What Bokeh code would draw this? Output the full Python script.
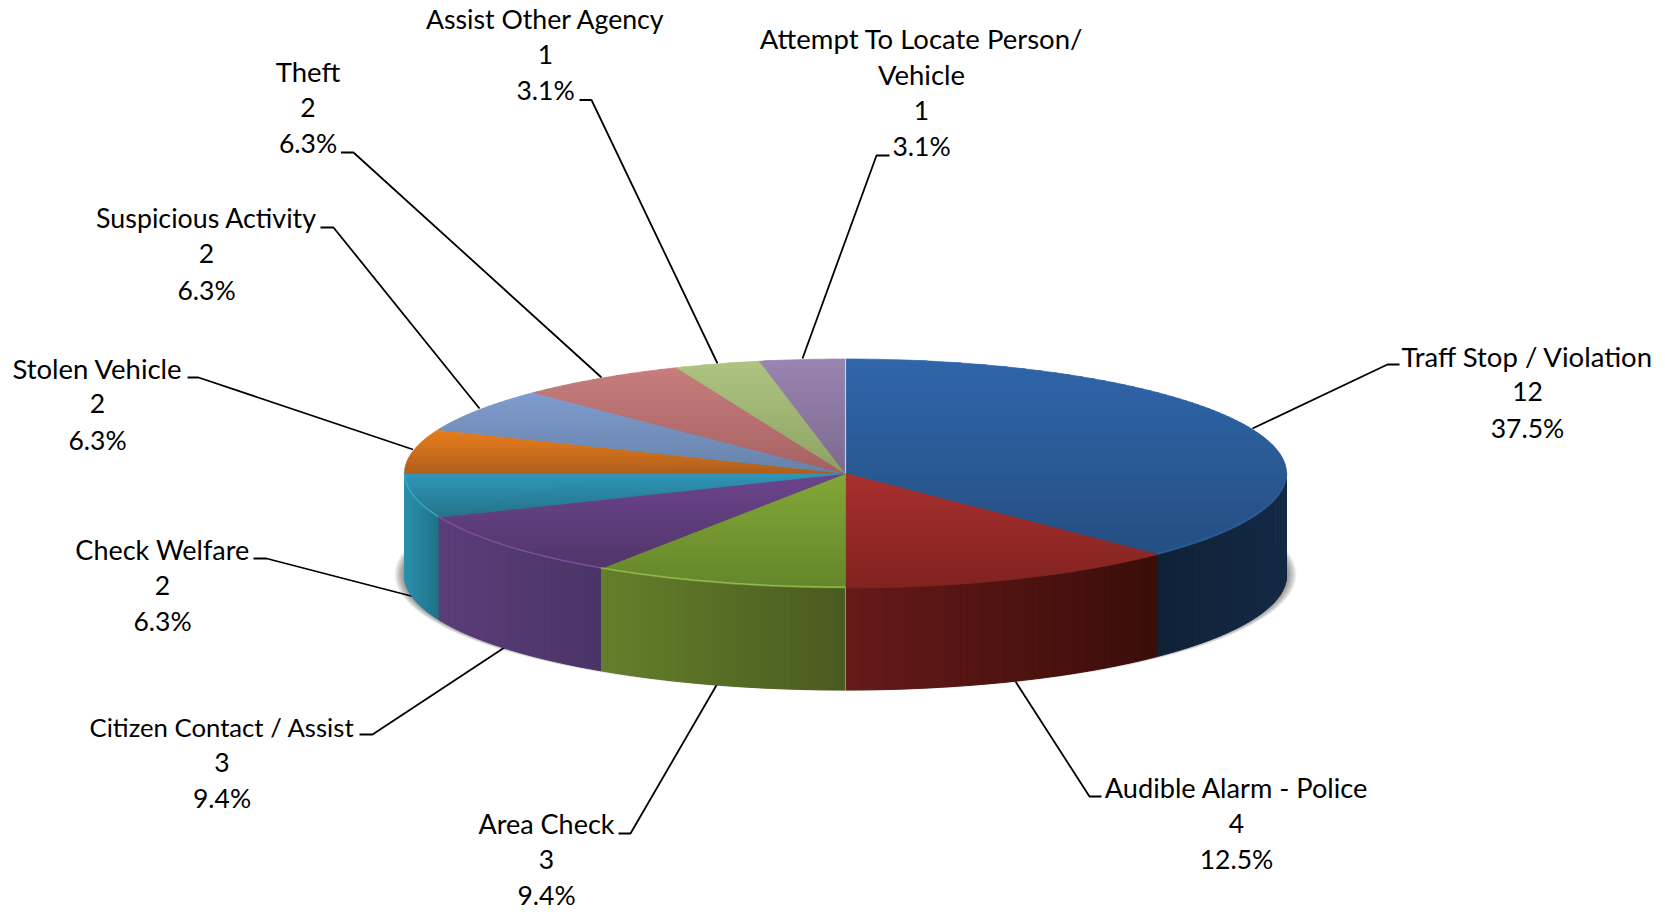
import math
from bokeh.plotting import figure
from bokeh.models import Range1d, ColumnDataSource
from bokeh.core.properties import value
from bokeh.embed import file_html
from bokeh.resources import INLINE

# ---- data (clockwise from 12 o'clock)
categories = ["Traff Stop / Violation", "Audible Alarm - Police", "Area Check",
              "Citizen Contact / Assist", "Check Welfare", "Stolen Vehicle",
              "Suspicious Activity", "Theft", "Assist Other Agency",
              "Attempt To Locate Person/\nVehicle"]
counts = [12, 4, 3, 3, 2, 2, 2, 2, 1, 1]
percents = ["37.5%", "12.5%", "9.4%", "9.4%", "6.3%", "6.3%", "6.3%", "6.3%", "3.1%", "3.1%"]

# ---- style: top face gradient (upper, lower), wall gradient (left, right)
face_hi = ["#3067AB", "#A8302E", "#82A736", "#6C448C", "#2F96B8", "#E67D1C", "#7E9CCF", "#C57C7B", "#ACC37F", "#9A86B2"]
face_lo = ["#264F82", "#80221F", "#65862B", "#503469", "#247189", "#B05E1A", "#6682AA", "#A46060", "#8DA063", "#7C6A90"]
wall_l = ["#0F2137", "#661A18", "#64802B", "#5B3D7A", "#2A90AD", "#000000", "#000000", "#000000", "#000000", "#000000"]
wall_r = ["#132A45", "#3A0D0A", "#4A5A1F", "#4A3466", "#1F7287", "#000000", "#000000", "#000000", "#000000", "#000000"]
rim = ["#2C5C96", None, "#93B84E", "#775099", "#38A6C6", None, None, None, None, None]

# ---- layout (page pixels)
CX, CY, RX, RY, DEPTH = 845.0, 473.0, 441.0, 114.5, 102.0
name_px = [27.5, 27.2, 27.0, 25.7, 27.0, 27.5, 26.8, 27.5, 26.7, 27.5]
NUM_PX = 26.5
PITCH = 35.8
BASE_FIX = -10.0
label_x = [1527, 1236, 546, 221.5, 162, 97, 206, 307.5, 545, 921]
label_y = [365.5, 797, 833, 736, 559, 377.5, 227.5, 81, 28, 48]
leader_x = [[1399, 1387, 1252], [1101, 1089, 1015], [618, 630, 717], [359, 372, 504], [253, 266, 412.5],
            [187, 198, 412.5], [320, 333, 479], [340.5, 353, 601], [579, 591, 717], [889, 876, 802]]
leader_y = [[364, 364, 428], [796, 796, 681], [833, 833, 683], [734, 734, 647], [558, 558, 596],
            [377, 377, 449], [227, 227, 408], [152, 152, 377], [99.5, 99.5, 363], [155, 155, 358]]


def rgb(h):
    return tuple(int(h[i:i + 2], 16) for i in (1, 3, 5))


def mix(a, b, t):
    t = max(0.0, min(1.0, t))
    ca, cb = rgb(a), rgb(b)
    return "#%02x%02x%02x" % tuple(round(ca[i] + (cb[i] - ca[i]) * t) for i in range(3))


def pt(deg, dy=0.0):
    r = math.radians(deg)
    return CX + RX * math.sin(r), CY - RY * math.cos(r) + dy


def clip(poly, y0, y1):
    def cut(points, keep, isect):
        out = []
        for i, p in enumerate(points):
            q = points[i - 1]
            if keep(p):
                if not keep(q):
                    out.append(isect(q, p))
                out.append(p)
            elif keep(q):
                out.append(isect(q, p))
        return out

    def at(yv):
        return lambda a, b: (a[0] + (b[0] - a[0]) * (yv - a[1]) / (b[1] - a[1]), yv)

    res = cut(poly, lambda p: p[1] >= y0, at(y0))
    if res:
        res = cut(res, lambda p: p[1] <= y1, at(y1))
    return res


p = figure(width=1665, height=912, x_range=Range1d(0, 1665), y_range=Range1d(912, 0),
           output_backend="svg", toolbar_location=None, x_axis_location=None, y_axis_location=None,
           min_border=0, outline_line_color=None, background_fill_color="white",
           border_fill_color="white")
p.grid.visible = False

# soft shadow under the disc
for k in range(10, 0, -1):
    p.ellipse(x=[CX], y=[CY + DEPTH - 1], width=[2 * (RX + k)], height=[2 * (RY + k * 0.2)],
              fill_color="#000000", fill_alpha=0.05, line_color=None)

# leaders
p.multi_line(xs=leader_x, ys=leader_y, line_color="#000000", line_width=1.8)

total = sum(counts)
edges = [0.0]
for c in counts:
    edges.append(edges[-1] + 360.0 * c / total)

# wall
wx, wy, wc = [], [], []
for i in range(len(counts)):
    a0, a1 = max(edges[i], 90.0), min(edges[i + 1], 270.0)
    if a1 <= a0:
        continue
    xl, xr = pt(a1)[0], pt(a0)[0]
    n = max(1, int(a1 - a0))
    for j in range(n):
        b0 = a0 + (a1 - a0) * j / n
        b1 = a0 + (a1 - a0) * (j + 1) / n
        q0, q1 = pt(b0), pt(b1)
        q2, q3 = pt(b1, DEPTH), pt(b0, DEPTH)
        wx.append([q0[0], q1[0], q2[0], q3[0]])
        wy.append([q0[1], q1[1], q2[1], q3[1]])
        wc.append(mix(wall_l[i], wall_r[i], ((q0[0] + q1[0]) / 2 - xl) / (xr - xl)))
p.patches("x", "y", fill_color="c", line_color="c", line_width=1.0,
          source=ColumnDataSource(dict(x=wx, y=wy, c=wc)))

# top face, split in horizontal bands to carry the gradient
BAND = 2.0
fx, fy, fc = [], [], []
for i in range(len(counts)):
    n = max(4, int(edges[i + 1] - edges[i]))
    poly = [(CX, CY)] + [pt(edges[i] + (edges[i + 1] - edges[i]) * j / n) for j in range(n + 1)]
    ys = [q[1] for q in poly]
    y0, y1 = min(ys), max(ys)
    y = y0
    while y < y1:
        part = clip(poly, y, y + BAND)
        if len(part) >= 3:
            fx.append([q[0] for q in part])
            fy.append([q[1] for q in part])
            fc.append(mix(face_hi[i], face_lo[i], (y + BAND / 2 - y0) / (y1 - y0)))
        y += BAND
p.patches("x", "y", fill_color="c", line_color="c", line_width=0.7,
          source=ColumnDataSource(dict(x=fx, y=fy, c=fc)))

# bevel highlight along the front rim
for i in range(len(counts)):
    if rim[i] is None:
        continue
    a0, a1 = max(edges[i], 90.0), min(edges[i + 1], 270.0)
    n = 40
    pts = [pt(a0 + (a1 - a0) * j / n, -1.0) for j in range(n + 1)]
    p.line([q[0] for q in pts], [q[1] for q in pts], line_color=rim[i], line_width=1.5)

# pale seam at 12 and 6 o'clock
top = pt(0)
p.line([CX, CX], [top[1], CY], line_color="#C9CCE2", line_width=1.2)
p.line([CX, CX], [CY + RY, CY + RY + DEPTH], line_color="#FFFFFF", line_alpha=0.35, line_width=1.2)

# labels
tx, ty, tt, ts = [], [], [], []
for i, cat in enumerate(categories):
    names = cat.split("\n")
    lines = names + [str(counts[i]), percents[i]]
    for j, s in enumerate(lines):
        tx.append(label_x[i])
        ty.append(label_y[i] + j * PITCH + BASE_FIX)
        tt.append(s)
        ts.append(f"{name_px[i] if j < len(names) else NUM_PX}px")
p.text("x", "y", text="t", source=ColumnDataSource(dict(x=tx, y=ty, t=tt, s=ts)),
       text_font=value("Lato"), text_font_size="s", text_color="#000000",
       text_align="center", text_baseline="alphabetic")

open("out.html", "w").write(file_html(p, INLINE))
